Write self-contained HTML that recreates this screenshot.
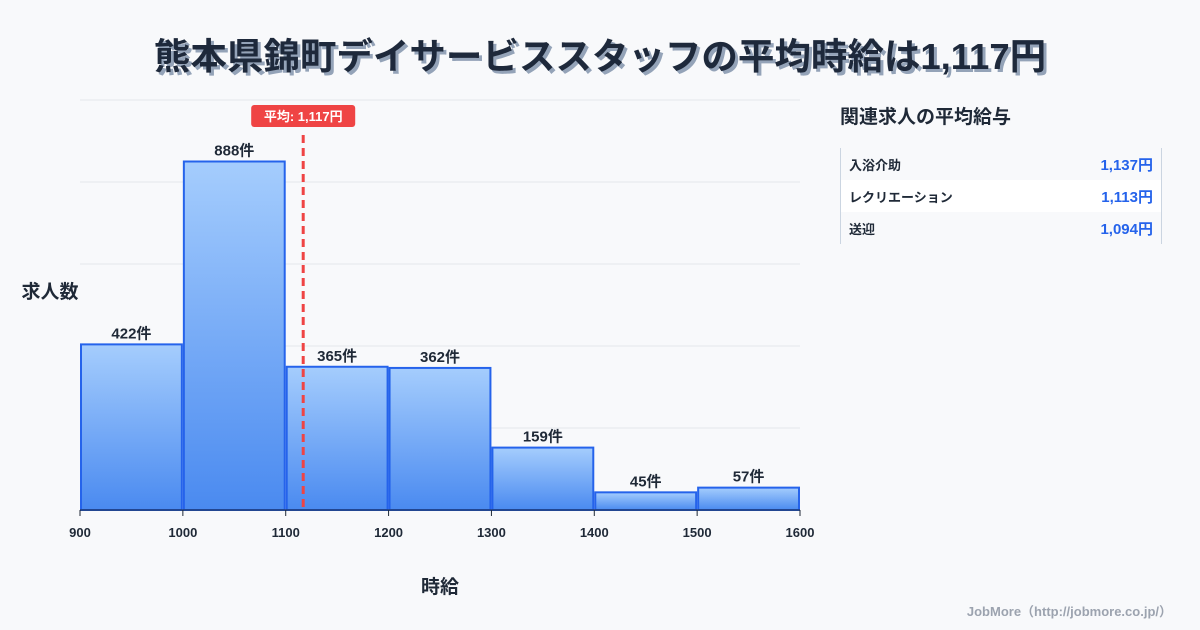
<!DOCTYPE html>
<html><head><meta charset="utf-8">
<style>
body{margin:0;width:1200px;height:630px;background:#f8f9fb;font-family:"Liberation Sans","Noto Sans CJK JP",sans-serif;overflow:hidden;position:relative;color:#1f2937}
.title{position:absolute;left:0;width:1200px;top:27px;text-align:center;font-size:36.5px;font-weight:bold;color:#1e293b;text-shadow:3px 3px 0 #94a3b8}
.panel{position:absolute;left:840px;top:102px;width:322px}
.ptitle{font-size:19px;font-weight:bold;color:#1f2937}
.tbl{margin-top:19px;border-left:1px solid #cbd5e1;border-right:1px solid #cbd5e1;padding:0}
.row{height:32px;display:flex;justify-content:space-between;align-items:center;padding:0 8px 0 8px;font-size:13px;font-weight:bold}
.row .v{color:#2563eb;font-size:15px}
.row.w{background:#fff}
.foot{position:absolute;right:28px;bottom:10px;font-size:13px;color:#9ca3af;font-weight:bold}
</style></head><body>
<div class="title">熊本県錦町デイサービススタッフの平均時給は1,117円</div>
<svg id="chart" width="1200" height="630" style="position:absolute;left:0;top:0">
<defs><linearGradient id="g" x1="0" y1="0" x2="0" y2="1"><stop offset="0" stop-color="#a5cdfd"/><stop offset="1" stop-color="#4a8af0"/></linearGradient></defs>
<g id="grid"></g><g id="bars"></g><g id="axis"></g><g id="mean"></g>
<text x="50" y="298" font-size="19" font-weight="bold" text-anchor="middle" fill="#1f2937">求人数</text>
<text x="440" y="593" font-size="19" font-weight="bold" text-anchor="middle" fill="#1f2937">時給</text>
</svg>
<div class="panel">
<div class="ptitle">関連求人の平均給与</div>
<div class="tbl">
<div class="row"><span>入浴介助</span><span class="v">1,137円</span></div>
<div class="row w"><span>レクリエーション</span><span class="v">1,113円</span></div>
<div class="row"><span>送迎</span><span class="v">1,094円</span></div>
</div></div>
<div class="foot">JobMore（http://jobmore.co.jp/）</div>
<script>
const binStarts=[900,1000,1100,1200,1300,1400,1500];
const counts=[422,888,365,362,159,45,57];
const xTicks=[900,1000,1100,1200,1300,1400,1500,1600];
const meanValue=1117;
const meanLabel="平均: 1,117円";
const NS="http://www.w3.org/2000/svg";
const X0=80,X1=800,Y0=510,Y1=100,binW=100;
const xMin=xTicks[0],xMax=xTicks[xTicks.length-1];
const yMax=Math.max(...counts)/0.85;
const sx=v=>X0+(v-xMin)/(xMax-xMin)*(X1-X0);
const sy=v=>Y0-v/yMax*(Y0-Y1);
function mk(t,a,p){const e=document.createElementNS(NS,t);for(const k in a)e.setAttribute(k,a[k]);p.appendChild(e);return e;}
const grid=document.getElementById('grid');
for(let i=0;i<=5;i++){const y=Y0-(Y0-Y1)*i/5;const l=mk('line',{x1:X0,x2:X1,y1:y,y2:y,stroke:'#e5e7eb','stroke-width':1},grid);

}
const bars=document.getElementById('bars');
counts.forEach((c,i)=>{const x=sx(binStarts[i])+1,w=sx(binStarts[i]+binW)-sx(binStarts[i])-2,y=sy(c);
const r=mk('rect',{x:x,y:y,width:w,height:Y0-y,fill:'url(#g)',stroke:'#2563eb','stroke-width':2},bars);


const t=mk('text',{x:x+w/2,y:y-6,'text-anchor':'middle','font-size':15,'font-weight':'bold',fill:'#1f2937'},bars);t.textContent=c+'件';

});
const ax=document.getElementById('axis');
const bl=mk('line',{x1:X0,x2:X1,y1:Y0,y2:Y0,stroke:'#1f2937','stroke-width':1},ax);


xTicks.forEach(v=>{mk('line',{x1:sx(v),x2:sx(v),y1:Y0,y2:Y0+6,stroke:'#1f2937'},ax);
const t=mk('text',{x:sx(v),y:Y0+27,'text-anchor':'middle','font-size':13,'font-weight':'bold',fill:'#1f2937'},ax);t.textContent=v;

});
const mg=document.getElementById('mean');const mx=sx(meanValue);
const ml=mk('line',{x1:mx,x2:mx,y1:135,y2:Y0,stroke:'#ef4444','stroke-width':3,'stroke-dasharray':'8,5'},mg);


const mr=mk('rect',{x:mx-52,y:105,width:104,height:22,rx:3,fill:'#ef4444'},mg);


const mt=mk('text',{x:mx,y:121,'text-anchor':'middle','font-size':13,'font-weight':'bold',fill:'#fff'},mg);mt.textContent=meanLabel;


</script>
</body></html>
